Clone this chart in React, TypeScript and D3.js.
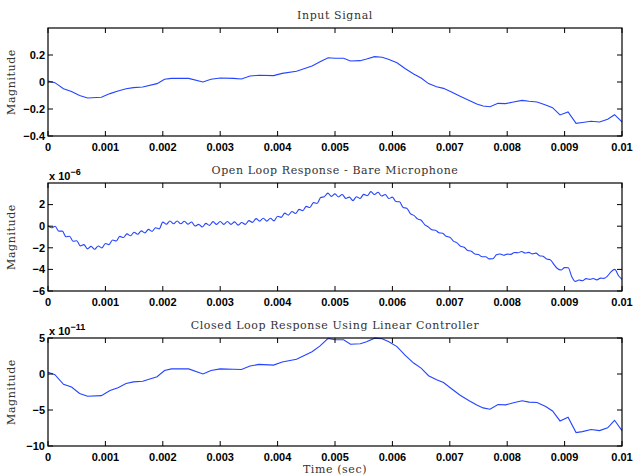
import * as d3 from 'd3';

// time axis ticks (seconds)
const xTicks = [0, 0.001, 0.002, 0.003, 0.004, 0.005, 0.006, 0.007, 0.008, 0.009, 0.01];
const xTickLabels = ['0', '0.001', '0.002', '0.003', '0.004', '0.005', '0.006', '0.007', '0.008', '0.009', '0.01'];

// input signal
const inputTime = [
  0, 0.00012, 0.00027, 0.00041, 0.00055, 0.00069, 0.00093, 0.00108, 0.00122, 0.00136,
  0.00149, 0.00165, 0.0019, 0.00203, 0.00215, 0.00245, 0.0027, 0.00284, 0.003, 0.00323,
  0.00337, 0.00352, 0.00367, 0.00393, 0.00408, 0.00433, 0.0046, 0.00474, 0.00488, 0.005,
  0.00515, 0.00527, 0.00544, 0.00555, 0.00569, 0.00582, 0.00593, 0.00608, 0.00622, 0.00637,
  0.0065, 0.00663, 0.00677, 0.00689, 0.00703, 0.00718, 0.00733, 0.00747, 0.00758, 0.0077,
  0.00784, 0.00797, 0.00811, 0.00826, 0.00838, 0.00852, 0.00867, 0.00879, 0.00892, 0.00906,
  0.0092, 0.00931, 0.00946, 0.00961, 0.00975, 0.00987, 0.01,
];
const inputValues = [
  0.007, -0.005, -0.05, -0.07, -0.1, -0.118, -0.113, -0.086, -0.067, -0.05,
  -0.042, -0.037, -0.012, 0.02, 0.027, 0.027, 0.0, 0.02, 0.03, 0.027,
  0.022, 0.044, 0.05, 0.047, 0.064, 0.08, 0.118, 0.15, 0.18, 0.176,
  0.176, 0.156, 0.158, 0.17, 0.188, 0.183, 0.168, 0.143, 0.1, 0.06,
  0.03, -0.012, -0.035, -0.047, -0.074, -0.106, -0.136, -0.163, -0.178, -0.183,
  -0.158, -0.16, -0.148, -0.136, -0.143, -0.148, -0.17, -0.19, -0.244, -0.222,
  -0.306, -0.3, -0.291, -0.296, -0.276, -0.242, -0.296,
];

// open loop (x 1e-6), sampled every 62.5 us
const openStep = 0.0000625;
const openValues = [
  0.05, -0.14, 0.0, -0.46, -0.46, -0.98, -0.93, -1.39, -1.35, -1.82,
  -1.71, -2.1, -1.87, -2.13, -1.83, -2.01, -1.6, -1.71, -1.28, -1.37,
  -0.94, -1.05, -0.71, -0.89, -0.56, -0.75, -0.43, -0.62, -0.29, -0.48,
  -0.14, -0.25, 0.38, 0.18, 0.48, 0.22, 0.48, 0.22, 0.46, 0.19,
  0.39, 0.02, 0.17, -0.08, 0.26, 0.08, 0.42, 0.17, 0.43, 0.17,
  0.43, 0.17, 0.4, 0.1, 0.34, 0.17, 0.52, 0.35, 0.7, 0.47,
  0.73, 0.47, 0.73, 0.49, 0.92, 0.82, 1.21, 1.03, 1.36, 1.18,
  1.56, 1.44, 1.84, 1.73, 2.18, 2.1, 2.65, 2.73, 3.06, 2.76,
  2.99, 2.7, 2.94, 2.58, 2.69, 2.37, 2.73, 2.57, 2.95, 2.82,
  3.2, 2.93, 3.14, 2.79, 2.94, 2.56, 2.69, 2.28, 2.26, 1.73,
  1.67, 1.17, 1.0, 0.68, 0.55, 0.15, -0.06, -0.33, -0.37, -0.61,
  -0.66, -0.94, -1.02, -1.38, -1.54, -1.86, -1.95, -2.24, -2.31, -2.57,
  -2.63, -2.83, -2.83, -3.03, -3.02, -2.65, -2.57, -2.69, -2.59, -2.61,
  -2.44, -2.46, -2.34, -2.48, -2.42, -2.56, -2.49, -2.73, -2.78, -3.04,
  -3.1, -3.53, -3.92, -4.05, -3.84, -3.85, -4.67, -5.11, -4.98, -5.05,
  -4.85, -4.92, -4.84, -4.97, -4.81, -4.83, -4.6, -4.2, -4.0, -4.56,
  -4.92,
];

// closed loop (x 1e-11), same sample times as the input
const closedValues = [
  0.24, -0.1, -1.43, -1.81, -2.71, -3.1, -3.0, -2.29, -1.9, -1.33,
  -1.1, -1.0, -0.38, 0.48, 0.71, 0.71, 0.0, 0.48, 0.71, 0.67,
  0.62, 1.1, 1.33, 1.24, 1.67, 2.05, 3.1, 3.9, 4.95, 4.76,
  4.76, 4.14, 4.2, 4.48, 4.98, 4.9, 4.52, 3.81, 2.62, 1.52,
  0.81, -0.24, -0.81, -1.19, -2.05, -2.95, -3.67, -4.29, -4.71, -4.9,
  -4.24, -4.29, -4.0, -3.71, -3.9, -3.95, -4.52, -5.14, -6.52, -6.0,
  -8.14, -8.0, -7.71, -7.86, -7.48, -6.43, -7.86,
];

const W = 635;
const H = 476;
const left = 48;
const right = 622;
const panelH = 108;
const blue = '#2444ff';
const tickFont = '"Liberation Sans", Arial, sans-serif';
const serif = '"DejaVu Serif", serif';

const x = d3.scaleLinear().domain([0, 0.01]).range([left, right]);

type Pt = [number, number];

function Panel(props: {
  top: number;
  title: string;
  domain: [number, number];
  yTicks: number[];
  yLabels: string[];
  points: Pt[];
  exponent?: string;
  curve?: d3.CurveFactory;
}) {
  const { top, title, domain, yTicks, yLabels, points, exponent } = props;
  const bottom = top + panelH;
  const y = d3.scaleLinear().domain(domain).range([bottom, top]);
  const line = d3.line<Pt>()
    .x(d => x(d[0]))
    .y(d => y(d[1]))
    .curve(props.curve || d3.curveLinear);
  const tl = 5;
  return (
    <g>
      <text x={(left + right) / 2} y={top - 9} textAnchor="middle" fontFamily={serif}
        fontSize={11} letterSpacing={0.6} fill="#333">{title}</text>
      <text transform={`translate(15,${(top + bottom) / 2}) rotate(-90)`} textAnchor="middle"
        fontFamily={serif} fontSize={11} letterSpacing={0.6} fill="#333">Magnitude</text>
      <path d={line(points) || ''} fill="none" stroke={blue} strokeWidth={1.1} />
      {xTicks.map((t, i) => (
        <g key={'x' + i}>
          <line x1={x(t)} x2={x(t)} y1={bottom} y2={bottom - tl} stroke="#000" />
          <line x1={x(t)} x2={x(t)} y1={top} y2={top + tl} stroke="#000" />
          <text x={x(t)} y={bottom + 15} textAnchor="middle" fontFamily={tickFont}
            fontWeight="bold" fontSize={11}>{xTickLabels[i]}</text>
        </g>
      ))}
      {yTicks.map((v, i) => (
        <g key={'y' + i}>
          <line x1={left} x2={left + tl} y1={y(v)} y2={y(v)} stroke="#000" />
          <line x1={right} x2={right - tl} y1={y(v)} y2={y(v)} stroke="#000" />
          <text x={left - 3} y={y(v)} dy="0.35em" textAnchor="end" fontFamily={tickFont}
            fontWeight="bold" fontSize={11}>{yLabels[i]}</text>
        </g>
      ))}
      {exponent && (
        <text x={left + 1} y={top - 3} fontFamily={tickFont} fontWeight="bold" fontSize={11}>
          x 10<tspan dy={-5} fontSize={9}>{exponent}</tspan>
        </text>
      )}
      <rect x={left} y={top} width={right - left} height={panelH} fill="none" stroke="#000" strokeWidth={1.2} />
    </g>
  );
}

export default function App() {
  const inputPts: Pt[] = inputTime.map((t, i) => [t, inputValues[i]]);
  const openPts: Pt[] = openValues.map((v, i) => [i * openStep, v]);
  const closedPts: Pt[] = inputTime.map((t, i) => [t, closedValues[i]]);
  return (
    <svg width={W} height={H} style={{ position: 'absolute', left: 0, top: 0, background: '#fff' }}>
      <Panel top={28} title="Input Signal" domain={[-0.4, 0.4]} yTicks={[-0.4, -0.2, 0, 0.2]}
        yLabels={['\u22120.4', '\u22120.2', '0', '0.2']} points={inputPts} />
      <Panel top={183} title="Open Loop Response - Bare Microphone" domain={[-6, 4]}
        yTicks={[-6, -4, -2, 0, 2]} yLabels={['\u22126', '\u22124', '\u22122', '0', '2']}
        points={openPts} exponent={'\u22126'} curve={d3.curveMonotoneX} />
      <Panel top={338} title="Closed Loop Response Using Linear Controller" domain={[-10, 5]}
        yTicks={[-10, -5, 0, 5]} yLabels={['\u221210', '\u22125', '0', '5']}
        points={closedPts} exponent={'\u221211'} />
      <text x={(left + right) / 2} y={473} textAnchor="middle" fontFamily={serif} fontSize={11}
        letterSpacing={0.6} fill="#333">Time (sec)</text>
    </svg>
  );
}
